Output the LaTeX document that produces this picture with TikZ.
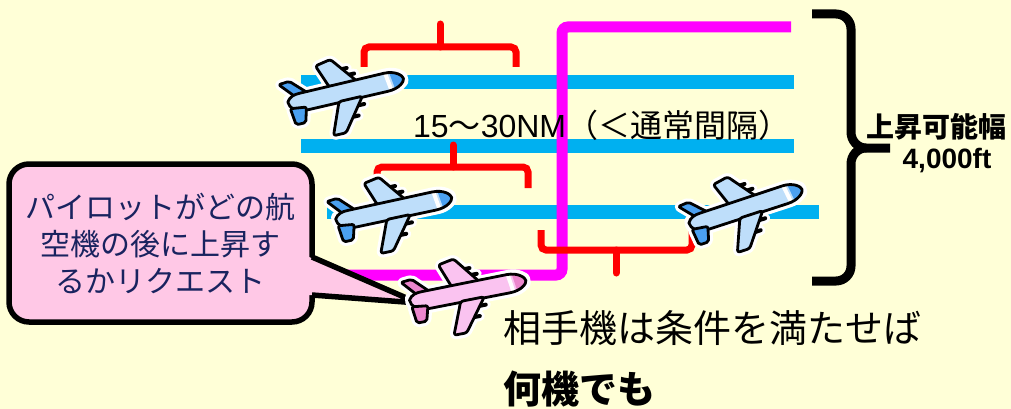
\documentclass[tikz,border=0pt]{standalone}
\usepackage{fontspec}
\setmainfont{Noto Sans CJK JP}
\newfontfamily\latinsans{Liberation Sans}

\definecolor{bgyellow}{RGB}{255,255,215}
\definecolor{laneblue}{RGB}{0,176,240}
\definecolor{climbpath}{RGB}{255,0,255}
\definecolor{gapred}{RGB}{255,0,0}
\definecolor{bubblepink}{RGB}{255,200,230}
\definecolor{bubbletext}{RGB}{25,35,95}
\definecolor{bluelight}{RGB}{190,222,250}
\definecolor{bluedark}{RGB}{75,160,240}
\definecolor{pinklight}{RGB}{250,195,240}
\definecolor{pinkdark}{RGB}{235,135,205}

\tikzset{
  lane/.style={draw=laneblue, line width=14},
  gapbracket/.style={draw=gapred, line width=7, rounded corners=5},
  gaptick/.style={draw=gapred, line width=7, line cap=round},
  planebody/.style={fill=bluelight},
  planetrim/.style={fill=bluedark},
  outline/.style={draw=black, line width=2.8, line join=round},
  % airplane parts in local coordinates (nose along +x)
  pl fus/.style={insert path={(-58,-3) .. controls (-55,-8) and (-50,-9) .. (-44,-9) -- (42,-9.5) .. controls (54,-9.5) and (60,-3) .. (60,0) .. controls (60,3) and (54,9) .. (42,9) -- (-44,9) .. controls (-52,9) and (-58,3) .. (-58,-3) -- cycle}},
  pl ufin/.style={insert path={[rounded corners=2](-49,-6) -- (-37,-8) -- (-52,-23) -- (-63,-22) -- cycle}},
  pl lfin/.style={insert path={[rounded corners=2](-57,4) -- (-41,6) -- (-45,21) -- (-55,21) -- cycle}},
  pl uwing/.style={insert path={[rounded corners=2.5](-14,-8) -- (14,-8) -- (-7,-35) -- (-23,-32) -- cycle}},
  pl lwing/.style={insert path={[rounded corners=2.5](-8,8) -- (16,8) -- (-8,40) -- (-21,40) -- cycle}},
  pl ueng/.style={insert path={(-1,-23) -- (7,-23) (5,-16) -- (13,-16)}},
  pl leng/.style={insert path={(9,16) -- (16,16) (1,26) -- (8,26)}},
  plane/.pic={
    % white halo round the whole craft
    \path[draw=white, line width=9, line join=round, line cap=round]
      [pl ufin] [pl lfin] [pl uwing] [pl lwing] [pl fus];
    \path[draw=white, line width=10, line cap=round] [pl ueng] [pl leng];
    % far side parts
    \path[planetrim, outline] [pl ufin];
    \path[draw=black, line width=4, line cap=round] [pl ueng];
    \path[planebody, outline] [pl uwing];
    % fuselage with nose cap
    \path[planebody] [pl fus];
    \begin{scope}
      \clip [pl fus];
      \fill[white] (41,-11) -- (45,-11) -- (48,11) -- (44,11) -- cycle;
      \path[planetrim] (47,-11) -- (63,-11) -- (63,11) -- (50,11) -- cycle;
    \end{scope}
    \path[outline] [pl fus];
    % near side parts
    \path[draw=black, line width=4, line cap=round] [pl leng];
    \path[planebody, outline] [pl lwing];
    \path[planetrim, outline] [pl lfin];
  },
  bubble/.style={font=\fontsize{30}{36}\selectfont, text=bubbletext, inner sep=0},
}

\begin{document}
\begin{tikzpicture}[x=1pt, y=-1pt]
  \useasboundingbox (0,0) rectangle (1011,409);
  \fill[bgyellow] (0,0) rectangle (1011,409);

  % flight levels
  \path[lane] (301,82) -- (794,82);
  \path[lane] (301,146) -- (794,146);
  \path[lane] (327,212) -- (819,212);

  % climb route
  \draw[climbpath, line width=11, rounded corners=6] (791,27) -- (562,27) -- (562,275) -- (330,275);

  % separation brackets
  \path[gapbracket] (364,67) -- (364,47) -- (516,47) -- (516,67);
  \path[gaptick] (440,47) -- (440,24);
  \path[gapbracket] (377,178) -- (377,167) -- (528,167) -- (528,188);
  \path[gaptick] (453,167) -- (453,145);
  \path[gapbracket] (541,230) -- (541,250) -- (692,250) -- (692,230);
  \path[gaptick] (616,250) -- (616,273);

  % climb range brace
  \draw[line width=9] (812,14) -- (836,14) to[out=0, in=90] (851,29) -- (851,132)
    to[out=-90, in=180] (866,148) -- (890,148);
  \draw[line width=9] (866,148) to[out=180, in=90] (851,164) -- (851,266)
    to[out=-90, in=0] (836,281) -- (812,281);

  \node[font=\fontsize{32}{36}\selectfont, inner sep=0, anchor=west] (gap) at (413,125)
    {{\latinsans 15}～{\latinsans 30NM}（＜通常間隔）};
  \node[font=\bfseries\fontsize{28}{32}\selectfont, inner sep=0] (range) at (936,127) {上昇可能幅};
  \node[font=\latinsans\bfseries\fontsize{28}{32}\selectfont, inner sep=0] (feet) at (947,161) {4,000ft};

  % traffic
  \pic[rotate=13] at (345,92) {plane};
  \pic[rotate=12] at (393,210) {plane};
  \pic[rotate=18] at (745,208) {plane};

  % request bubble
  \draw[fill=bubblepink, line width=5.5, rounded corners=20] (9,164) rectangle (312,322);
  \fill[bubblepink] (309,257) -- (418,303) -- (309,295) -- cycle;
  \draw[line width=5.5, line join=miter] (312,257) -- (418,303) -- (312,295);
  \node[bubble] (req1) at (160,207) {パイロットがどの航};
  \node[bubble] (req2) at (160,244) {空機の後に上昇す};
  \node[bubble] (req3) at (160,281) {るかリクエスト};

  % climbing aircraft
  \pic[rotate=11, planebody/.style={fill=pinklight}, planetrim/.style={fill=pinkdark}] at (467,292) {plane};

  % condition note
  \node[font=\fontsize{38}{44}\selectfont, inner sep=0, anchor=west] (cond1) at (503,328) {相手機は条件を満たせば};
  \node[font=\bfseries\fontsize{38}{44}\selectfont, inner sep=0, anchor=west] (cond2) at (503,389) {何機でも};
\end{tikzpicture}
\end{document}
